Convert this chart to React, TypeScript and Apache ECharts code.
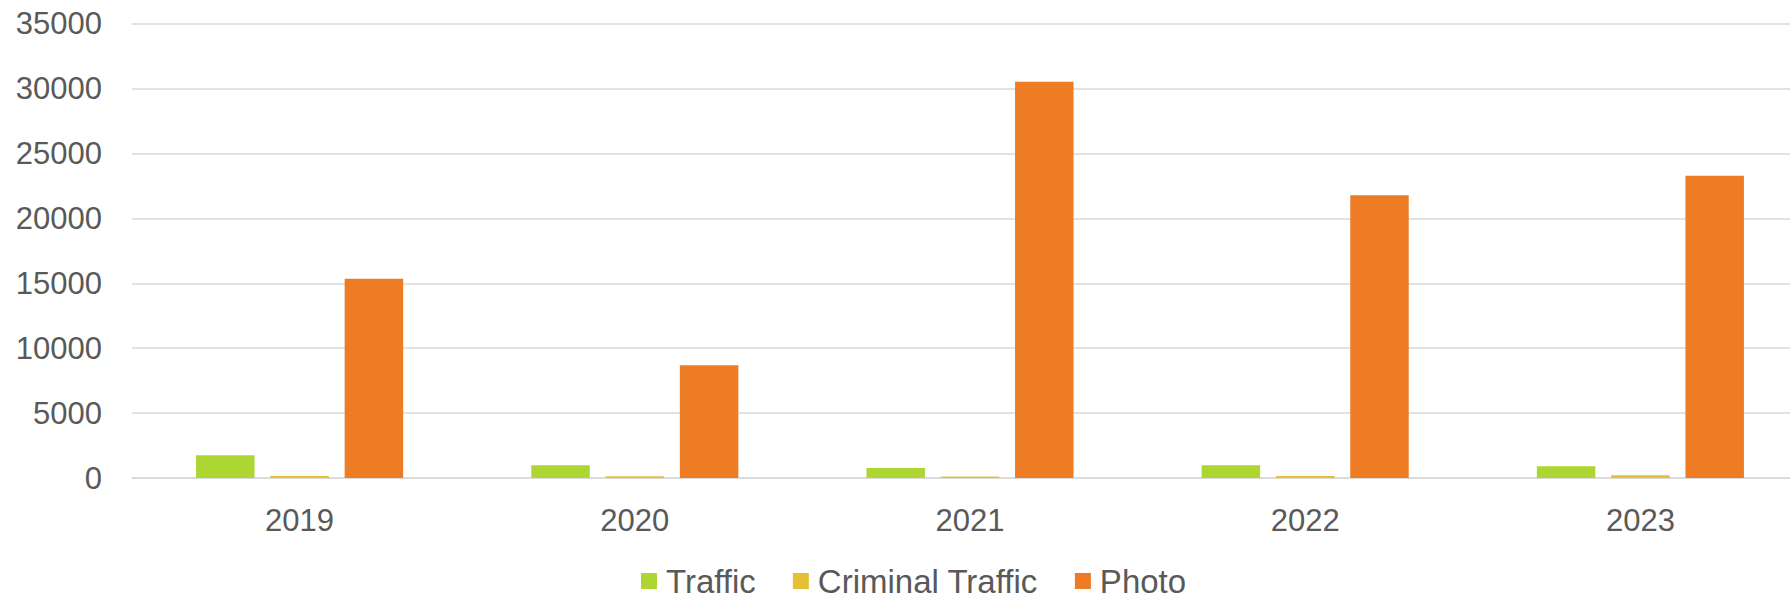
import React, { useEffect, useRef } from "react";
import * as echarts from "echarts";

const categories = ["2019", "2020", "2021", "2022", "2023"];
const trafficValues = [1750, 980, 780, 980, 900];
const criminalTrafficValues = [160, 140, 120, 150, 220];
const photoValues = [15350, 8680, 30520, 21780, 23290];
const seriesNames = ["Traffic", "Criminal Traffic", "Photo"];
const seriesColors = ["#ADD633", "#E6C032", "#EE7C24"];

const FONT = "'Liberation Sans', Arial, sans-serif";
const TEXT_COLOR = "#595959";

export default function App() {
  const ref = useRef<HTMLDivElement>(null);

  useEffect(() => {
    if (!ref.current) return;
    const chart = echarts.init(ref.current, undefined, { renderer: "svg" });
    const data = [trafficValues, criminalTrafficValues, photoValues];
    chart.setOption({
      animation: false,
      backgroundColor: "#ffffff",
      textStyle: { fontFamily: FONT },
      grid: {
        left: 132,
        top: 23.7,
        width: 1676,
        height: 454.3,
        containLabel: false,
        outerBoundsMode: "none",
      },
      legend: {
        data: seriesNames,
        left: 641,
        top: 564,
        padding: 0,
        itemWidth: 16,
        itemHeight: 16,
        itemGap: 37,
        icon: "rect",
        textStyle: {
          fontFamily: FONT,
          fontSize: 33,
          lineHeight: 34,
          color: TEXT_COLOR,
          padding: [0, 0, 0, 4],
        },
      },
      xAxis: {
        type: "category",
        data: categories,
        axisLine: { show: true, lineStyle: { color: "#d9d9d9", width: 1.5 } },
        axisTick: { show: false },
        axisLabel: {
          fontFamily: FONT,
          fontSize: 31,
          color: TEXT_COLOR,
          margin: 27,
        },
      },
      yAxis: {
        type: "value",
        min: 0,
        max: 35000,
        interval: 5000,
        axisLine: { show: false },
        axisTick: { show: false },
        splitLine: { lineStyle: { color: "#d9d9d9", width: 1.5 } },
        axisLabel: {
          fontFamily: FONT,
          fontSize: 31,
          color: TEXT_COLOR,
          margin: 30,
          formatter: (v: number) => String(v),
        },
      },
      series: seriesNames.map((name, i) => ({
        name,
        type: "bar",
        data: data[i],
        barWidth: 58.5,
        barGap: "27%",
        itemStyle: { color: seriesColors[i] },
      })),
    });
    return () => chart.dispose();
  }, []);

  return (
    <div
      ref={ref}
      style={{
        position: "fixed",
        left: 0,
        top: 0,
        width: 1790,
        height: 599,
        background: "#fff",
      }}
    />
  );
}
